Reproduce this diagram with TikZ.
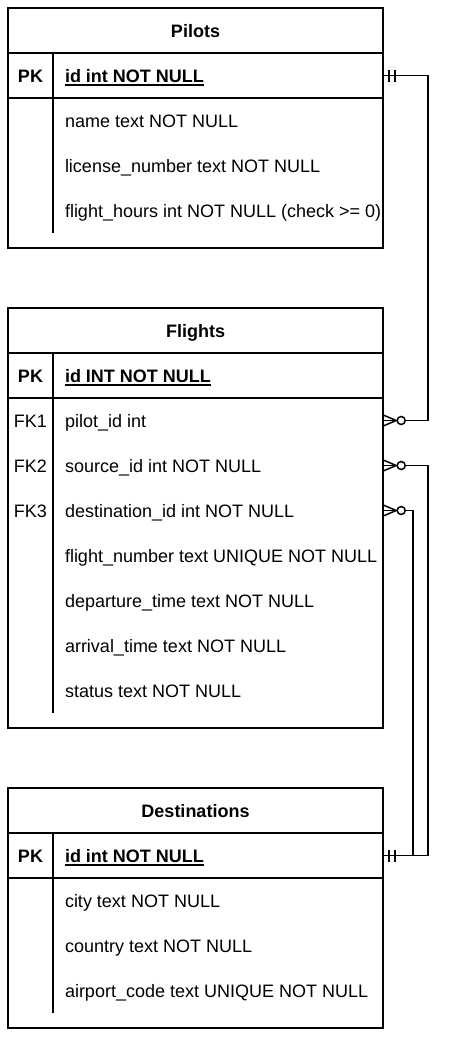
\documentclass[tikz,border=0pt]{standalone}
\usepackage{fontspec}
\setmainfont{Liberation Sans}
\newcommand\fld[1]{\makebox[306pt][l]{#1}}
\newcommand\ulpk[1]{\setbox0=\hbox{#1}\rlap{\rule[-3.5pt]{\wd0}{1.4pt}}\box0}
\newcommand\barone[1]{\draw[conn] ([xshift=6pt]#1) ++(0,-6) -- ++(0,12) ([xshift=12pt]#1) ++(0,-6) -- ++(0,12);}
\newcommand\crowzm[1]{\draw[conn] ([yshift=-5.5pt]#1) -- ([xshift=13pt]#1) -- ([yshift=5.5pt]#1); \draw[conn,fill=white] ([xshift=18pt]#1) circle (4pt);}
\tikzset{
  base/.style={font=\fontsize{18pt}{21pt}\selectfont, inner sep=0pt, text height=16pt, text depth=3pt, minimum height=45pt},
  ttl/.style={base, font=\fontsize{18pt}{21pt}\selectfont\bfseries, minimum width=375pt},
  keyc/.style={base, minimum width=45pt},
  pkey/.style={keyc, font=\fontsize{18pt}{21pt}\selectfont\bfseries},
  field/.style={base, minimum width=330pt, inner xsep=12pt},
  pkfield/.style={field, font=\fontsize{18pt}{21pt}\selectfont\bfseries},
  frame/.style={draw, line width=1.5pt},
  conn/.style={draw, line width=1.5pt},
}
\begin{document}
\begin{tikzpicture}[x=1pt,y=-1pt]
\useasboundingbox[fill=white] (0,0) rectangle (450,1037);
% ---------- Pilots ----------
\draw[frame] (8,8) rectangle (383,248);
\draw[frame] (8,53) -- (383,53) (8,98) -- (383,98) (53,53) -- (53,233);
\node[ttl] (pt) at (195.5,30.5) {Pilots};
\node[pkey] (pk1) at (30.5,75.5) {PK};
\node[pkfield] (p0) at (218,75.5) {\fld{\ulpk{id int NOT NULL}}};
\node[field] (p1) at (218,120.5) {\fld{name text NOT NULL}};
\node[field] (p2) at (218,165.5) {\fld{license\_number text NOT NULL}};
\node[field] (p3) at (218,210.5) {\fld{flight\_hours int NOT NULL (check >= 0)}};
% ---------- Flights ----------
\draw[frame] (8,308) rectangle (383,728);
\draw[frame] (8,353) -- (383,353) (8,398) -- (383,398) (53,353) -- (53,713);
\node[ttl] (ft) at (195.5,330.5) {Flights};
\node[pkey] (pk2) at (30.5,375.5) {PK};
\node[keyc] (fk1) at (30.5,420.5) {FK1};
\node[keyc] (fk2) at (30.5,465.5) {FK2};
\node[keyc] (fk3) at (30.5,510.5) {FK3};
\node[pkfield] (f0) at (218,375.5) {\fld{\ulpk{id INT NOT NULL}}};
\node[field] (f1) at (218,420.5) {\fld{pilot\_id int}};
\node[field] (f2) at (218,465.5) {\fld{source\_id int NOT NULL}};
\node[field] (f3) at (218,510.5) {\fld{destination\_id int NOT NULL}};
\node[field] (f4) at (218,555.5) {\fld{flight\_number text UNIQUE NOT NULL}};
\node[field] (f5) at (218,600.5) {\fld{departure\_time text NOT NULL}};
\node[field] (f6) at (218,645.5) {\fld{arrival\_time text NOT NULL}};
\node[field] (f7) at (218,690.5) {\fld{status text NOT NULL}};
% ---------- Destinations ----------
\draw[frame] (8,788) rectangle (383,1028);
\draw[frame] (8,833) -- (383,833) (8,878) -- (383,878) (53,833) -- (53,1013);
\node[ttl] (dt) at (195.5,810.5) {Destinations};
\node[pkey] (pk3) at (30.5,855.5) {PK};
\node[pkfield] (d0) at (218,855.5) {\fld{\ulpk{id int NOT NULL}}};
\node[field] (d1) at (218,900.5) {\fld{city text NOT NULL}};
\node[field] (d2) at (218,945.5) {\fld{country text NOT NULL}};
\node[field] (d3) at (218,990.5) {\fld{airport\_code text UNIQUE NOT NULL}};
% ---------- Connectors ----------
\draw[conn] (p0.east) -- ++(45,0) |- (f1.east);
\draw[conn] (f2.east) -- ++(45,0) |- (d0.east);
\draw[conn] (f3.east) -- ++(30,0) |- (d0.east);
\barone{p0.east}
\barone{d0.east}
\crowzm{f1.east}
\crowzm{f2.east}
\crowzm{f3.east}
\end{tikzpicture}
\end{document}
